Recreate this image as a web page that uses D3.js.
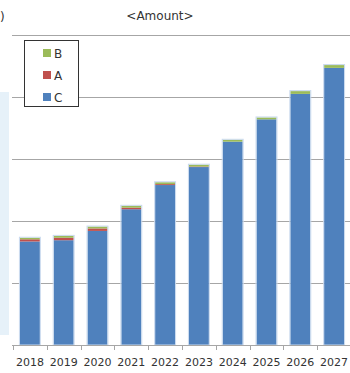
<!DOCTYPE html>
<html lang="en">

<head>
  <meta charset="utf-8">
  <title>Amount</title>
  <script src="https://cdn.jsdelivr.net/npm/d3@7"></script>
  <style>
    body { margin: 0; background: #fff; }
    text { font-family: "DejaVu Sans", sans-serif; fill: #333; }
    .grid line { stroke: #a6a6a6; stroke-width: 1; shape-rendering: crispEdges; }
  </style>
</head>

<body>
  <svg id="chart" width="350" height="373"></svg>

  <script>
    // data
    var years = ["2018", "2019", "2020", "2021", "2022", "2023", "2024", "2025", "2026", "2027"];
    var seriesC = [167, 169, 184, 219, 258, 287, 328, 364, 405, 447];
    var seriesA = [3.5, 4, 4, 2.5, 1.5, 0.8, 0, 0, 0, 0];
    var seriesB = [2.5, 3, 3, 3, 3, 3, 3, 3, 4.5, 4.5];
    var gridValues = [100, 200, 300, 400, 500];
    var legendKeys = ["B", "A", "C"];

    var colors = { C: "#4f81bd", A: "#c0504d", B: "#9bbb59" };

    var svg = d3.select("#chart");

    var x = d3.scaleBand()
      .domain(years)
      .range([13, 351])
      .paddingInner(0.41)
      .paddingOuter(0.205);

    var y = d3.scaleLinear()
      .domain([0, 500])
      .range([345, 35]);

    // light strip from the neighbouring panel
    svg.append("rect")
      .attr("x", 0).attr("y", 92)
      .attr("width", 9).attr("height", 243)
      .attr("fill", "#e6f1f9");

    // tail of the unit label (rest is outside the crop)
    svg.append("text")
      .attr("x", 0).attr("y", 21)
      .style("font-size", "12px")
      .text(")");

    // title
    svg.append("text")
      .attr("x", 160).attr("y", 20)
      .attr("text-anchor", "middle")
      .style("font-size", "12px")
      .text("<Amount>");

    // gridlines
    svg.append("g").attr("class", "grid")
      .selectAll("line")
      .data(gridValues)
      .join("line")
      .attr("x1", 12).attr("x2", 350)
      .attr("y1", function (d) { return Math.round(y(d)) + 0.5; })
      .attr("y2", function (d) { return Math.round(y(d)) + 0.5; });

    // stacked bars
    var rows = years.map(function (yr, i) {
      return { year: yr, C: seriesC[i], A: seriesA[i], B: seriesB[i] };
    });
    var stack = d3.stack().keys(["C", "A", "B"])(rows);

    svg.append("g")
      .selectAll("g")
      .data(stack)
      .join("g")
      .attr("fill", function (d) { return colors[d.key]; })
      .selectAll("rect")
      .data(function (d) { return d; })
      .join("rect")
      .attr("x", function (d) { return x(d.data.year); })
      .attr("width", x.bandwidth())
      .attr("y", function (d) { return y(d[1]); })
      .attr("height", function (d) { return y(d[0]) - y(d[1]); });

    // faint edge round each whole bar
    svg.append("g")
      .selectAll("rect")
      .data(rows)
      .join("rect")
      .attr("x", function (d) { return x(d.year) - 0.5; })
      .attr("width", x.bandwidth() + 1)
      .attr("y", function (d) { return y(d.C + d.A + d.B) - 0.5; })
      .attr("height", function (d) { return y(0) - y(d.C + d.A + d.B) + 0.5; })
      .attr("fill", "none")
      .attr("stroke", "#c9d9ee")
      .attr("stroke-width", 1);

    // x axis baseline with ticks between categories
    var step = x.step();
    var axis = svg.append("g").attr("class", "grid");
    axis.append("line")
      .attr("x1", 12).attr("x2", 350)
      .attr("y1", 345.5).attr("y2", 345.5);
    var bounds = years.map(function (d) { return x(d) - (step - x.bandwidth()) / 2; });
    axis.selectAll("line.tick")
      .data(bounds)
      .join("line")
      .attr("class", "tick")
      .attr("x1", function (d) { return Math.round(d) + 0.5; })
      .attr("x2", function (d) { return Math.round(d) + 0.5; })
      .attr("y1", 345).attr("y2", 350);

    svg.append("g")
      .selectAll("text")
      .data(years)
      .join("text")
      .attr("x", function (d) { return x(d) + x.bandwidth() / 2; })
      .attr("y", 366)
      .attr("text-anchor", "middle")
      .style("font-size", "11px")
      .text(function (d) { return d; });

    // legend
    var legend = svg.append("g");
    legend.append("rect")
      .attr("x", 24.5).attr("y", 40.5)
      .attr("width", 54).attr("height", 66)
      .attr("fill", "#fff")
      .attr("stroke", "#333");
    var item = legend.selectAll("g")
      .data(legendKeys)
      .join("g")
      .attr("transform", function (d, i) { return "translate(43," + (49 + i * 22) + ")"; });
    item.append("rect")
      .attr("width", 8).attr("height", 8)
      .attr("fill", function (d) { return colors[d]; });
    item.append("text")
      .attr("x", 11).attr("y", 8.5)
      .style("font-size", "12px")
      .text(function (d) { return d; });
  </script>
</body>

</html>
